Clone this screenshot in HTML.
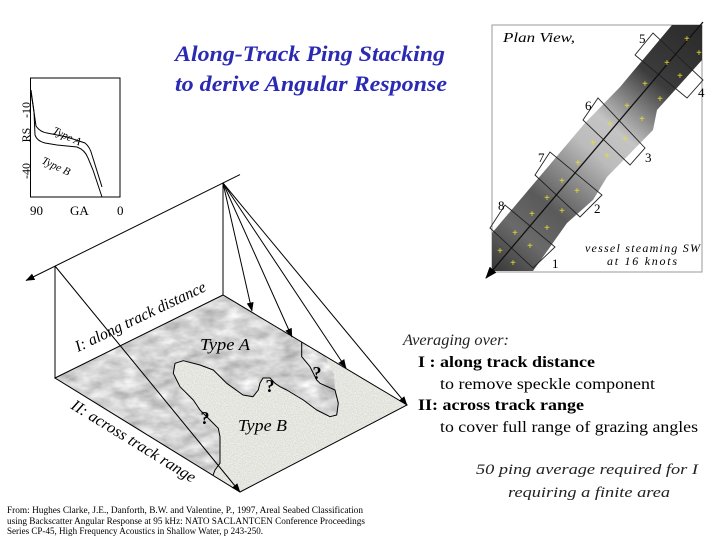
<!DOCTYPE html>
<html>
<head>
<meta charset="utf-8">
<style>
  html,body{margin:0;padding:0;background:#fff;}
  svg{display:block;}
  text{font-family:"Liberation Serif","DejaVu Serif",serif;}
</style>
</head>
<body>
<svg width="720" height="540" viewBox="0 0 720 540" xmlns="http://www.w3.org/2000/svg">
  <defs>
    <marker id="ah" markerWidth="9" markerHeight="7" refX="8.5" refY="3.5" orient="auto" markerUnits="userSpaceOnUse">
      <path d="M0,0 L9,3.5 L0,7 z" fill="#000"/>
    </marker>
    <marker id="ahb" markerWidth="12" markerHeight="9" refX="11" refY="4.5" orient="auto" markerUnits="userSpaceOnUse">
      <path d="M0,0 L12,4.5 L0,9 z" fill="#000"/>
    </marker>
    <filter id="marble" filterUnits="userSpaceOnUse" x="0" y="0" width="720" height="540" color-interpolation-filters="sRGB">
      <feTurbulence type="fractalNoise" baseFrequency="0.05 0.1" numOctaves="3" seed="4" result="n"/>
      <feColorMatrix in="n" type="matrix" values="0.42 0 0 0 0.62  0.42 0 0 0 0.62  0.42 0 0 0 0.62  0 0 0 0 1" result="g"/>
      <feComposite in="g" in2="SourceGraphic" operator="in"/>
    </filter>
    <filter id="speck" filterUnits="userSpaceOnUse" x="0" y="0" width="720" height="540" color-interpolation-filters="sRGB">
      <feTurbulence type="fractalNoise" baseFrequency="0.9" numOctaves="1" seed="7" result="n"/>
      <feColorMatrix in="n" type="matrix" values="0.22 0 0 0 0.79  0.22 0 0 0 0.79  0.2 0 0 0 0.78  0 0 0 0 1" result="g"/>
      <feComposite in="g" in2="SourceGraphic" operator="in"/>
    </filter>
    <linearGradient id="strip" gradientUnits="userSpaceOnUse" x1="700" y1="25" x2="495" y2="270">
      <stop offset="0" stop-color="#2a2a2a"/>
      <stop offset="0.22" stop-color="#3c3c3c"/>
      <stop offset="0.32" stop-color="#808080"/>
      <stop offset="0.42" stop-color="#c4c4c4"/>
      <stop offset="0.52" stop-color="#bcbcbc"/>
      <stop offset="0.62" stop-color="#8e8e8e"/>
      <stop offset="0.74" stop-color="#5a5a5a"/>
      <stop offset="0.86" stop-color="#6a6a6a"/>
      <stop offset="1" stop-color="#3a3a3a"/>
    </linearGradient>
  </defs>

  <!-- Title -->
  <text x="175" y="61" font-size="22" font-weight="bold" font-style="italic" fill="#2a2ab4" textLength="270" lengthAdjust="spacingAndGlyphs">Along-Track Ping Stacking</text>
  <text x="175" y="91" font-size="22" font-weight="bold" font-style="italic" fill="#2a2ab4" textLength="272" lengthAdjust="spacingAndGlyphs">to derive Angular Response</text>

  <!-- Small chart -->
  <rect x="30.5" y="78" width="89.5" height="119" fill="none" stroke="#000" stroke-width="1"/>
  <path d="M30.5,90 L33,105 L36,126 Q40,132 47,133 L67,137 L85,143 Q90,147 92,155 L102,187" fill="none" stroke="#000" stroke-width="1"/>
  <path d="M31,90 L34,112 L35,135 Q37,141 45,143 L57,145 L77,147 Q85,150 88,158 L93,170 L102,197" fill="none" stroke="#000" stroke-width="1"/>
  <text x="30" y="110" font-size="12" text-anchor="middle" transform="rotate(-90 30 110)">-10</text>
  <text x="30" y="135" font-size="12" text-anchor="middle" transform="rotate(-90 30 135)">RS</text>
  <text x="30" y="171" font-size="12" text-anchor="middle" transform="rotate(-90 30 171)">-40</text>
  <text x="52" y="133" font-size="11" font-style="italic" transform="rotate(25 52 133)">Type A</text>
  <text x="41" y="163" font-size="11" font-style="italic" transform="rotate(25 41 163)">Type B</text>
  <text x="30" y="215" font-size="13">90</text>
  <text x="70" y="215" font-size="13">GA</text>
  <text x="117" y="215" font-size="13">0</text>

  <!-- Plan view -->
  <rect x="492" y="25" width="210" height="247" fill="#fff" stroke="#9a9a9a" stroke-width="1"/>
  <polygon points="492,233 585,123 620,87 672,25 702,25 702,60 657,110 653,130 607,177 593,200 567,223 533,271 492,271" fill="url(#strip)"/>
  <g fill="none" stroke="#222" stroke-width="0.9">
    <polygon points="635,55 653,33 703,80 687,98"/>
    <polygon points="583,120 598,98 645,148 630,165"/>
    <polygon points="535,175 550,152 602,195 580,217"/>
    <polygon points="490,228 505,205 555,247 533,268"/>
  </g>
  <line x1="703" y1="22" x2="486" y2="278" stroke="#111" stroke-width="1.3" marker-end="url(#ahb)"/>
  <g fill="#e8e030" font-size="10" font-weight="bold" font-family="DejaVu Sans, sans-serif" text-anchor="middle">
    <text x="687" y="42">+</text><text x="699" y="56">+</text><text x="667" y="66">+</text>
    <text x="680" y="79">+</text><text x="645" y="87">+</text><text x="660" y="102">+</text>
    <text x="627" y="109">+</text><text x="642" y="122">+</text><text x="610" y="127">+</text>
    <text x="625" y="142">+</text><text x="593" y="146">+</text><text x="607" y="159">+</text>
    <text x="578" y="166">+</text><text x="562" y="184">+</text><text x="577" y="194">+</text>
    <text x="547" y="201">+</text><text x="562" y="214">+</text><text x="532" y="217">+</text>
    <text x="547" y="231">+</text><text x="515" y="236">+</text><text x="530" y="249">+</text>
    <text x="500" y="254">+</text><text x="513" y="266">+</text>
  </g>
  <text x="503" y="42" font-size="14" font-style="italic" textLength="72" lengthAdjust="spacingAndGlyphs">Plan View,</text>
  <g font-size="13">
    <text x="639" y="43">5</text>
    <text x="698" y="97">4</text>
    <text x="585" y="110">6</text>
    <text x="645" y="162">3</text>
    <text x="538" y="162">7</text>
    <text x="594" y="213">2</text>
    <text x="498" y="210">8</text>
    <text x="552" y="268">1</text>
  </g>
  <text x="585" y="252" font-size="12" font-style="italic" textLength="115" lengthAdjust="spacing">vessel steaming SW</text>
  <text x="607" y="265" font-size="12" font-style="italic" textLength="70" lengthAdjust="spacing">at 16 knots</text>

  <!-- 3D diagram: plane -->
  <polygon points="55,378 223,295 407,405 240,492" fill="#fff" filter="url(#speck)"/>
  <path d="M55,378 L223,295 L325,356 L334,374 L335,390 L338.3,403.3 L336.7,415 L330,416.7 L316.7,410 L303.3,400 L286.7,390 L280,386.7 L275,383.3 L270,378 L263,378 L260,383 L258.3,390 L253,396.7 L243,395 L226.7,383.3 L213.3,370 L200,365 L183.3,360.7 L175,363.3 L173.3,373.3 L180,386.7 L193.3,400 L200,410 L210,420 L218.3,428.3 L220,436.7 L220,463.3 L215,470 L213,475.3 Z" fill="#fff" filter="url(#marble)"/>
  <path d="M301.7,342 L301.7,356.7 L310,366.7 L316.7,380 L320,383.3 L335,390 L338.3,403.3 L336.7,415 L330,416.7 L316.7,410 L303.3,400 L286.7,390 L280,386.7 L275,383.3 L270,378 L263,378 L260,383 L258.3,390 L253,396.7 L243,395 L226.7,383.3 L213.3,370 L200,365 L183.3,360.7 L175,363.3 L173.3,373.3 L180,386.7 L193.3,400 L200,410 L210,420 L218.3,428.3 L220,436.7 L220,463.3 L215,470 L213,475.3" fill="none" stroke="#000" stroke-width="1" stroke-linejoin="round"/>
  <polygon points="55,378 223,295 407,405 240,492" fill="none" stroke="#000" stroke-width="1"/>

  <!-- 3D diagram: lines -->
  <g stroke="#000" stroke-width="1" fill="none">
    <line x1="240" y1="174.6" x2="26" y2="280.5" marker-end="url(#ah)"/>
    <line x1="55" y1="266" x2="55" y2="378"/>
    <line x1="223" y1="183" x2="223" y2="295"/>
    <line x1="55" y1="266" x2="240" y2="492" marker-end="url(#ah)"/>
    <line x1="223" y1="183" x2="252" y2="311" marker-end="url(#ah)"/>
    <line x1="223" y1="183" x2="292" y2="337" marker-end="url(#ah)"/>
    <line x1="223" y1="183" x2="346" y2="368" marker-end="url(#ah)"/>
    <line x1="223" y1="183" x2="407" y2="405" marker-end="url(#ah)"/>
  </g>

  <text x="78" y="352" font-size="16" font-style="italic" transform="rotate(-25.5 78 352)" textLength="143" lengthAdjust="spacingAndGlyphs">I: along track distance</text>
  <text x="70" y="408" font-size="16" font-style="italic" transform="rotate(31.6 70 408)" textLength="143" lengthAdjust="spacingAndGlyphs">II: across track range</text>
  <text x="200" y="350" font-size="17" font-style="italic" textLength="50" lengthAdjust="spacingAndGlyphs">Type A</text>
  <text x="238" y="431" font-size="17" font-style="italic" textLength="49" lengthAdjust="spacingAndGlyphs">Type B</text>
  <g font-size="18" font-weight="bold" text-anchor="middle">
    <text x="205" y="424">?</text>
    <text x="270" y="392">?</text>
    <text x="317" y="379">?</text>
  </g>

  <!-- Right text block -->
  <text x="403" y="345" font-size="16" font-style="italic" fill="#222" textLength="106" lengthAdjust="spacingAndGlyphs">Averaging over:</text>
  <text x="418" y="367" font-size="16" font-weight="bold" textLength="177" lengthAdjust="spacingAndGlyphs">I : along track distance</text>
  <text x="440" y="389" font-size="16" textLength="215" lengthAdjust="spacingAndGlyphs">to remove speckle component</text>
  <text x="418" y="410" font-size="16" font-weight="bold" textLength="166" lengthAdjust="spacingAndGlyphs">II: across track range</text>
  <text x="440" y="432" font-size="16" textLength="258" lengthAdjust="spacingAndGlyphs">to cover full range of grazing angles</text>
  <text x="476" y="474" font-size="15" font-style="italic" fill="#222" textLength="222" lengthAdjust="spacingAndGlyphs">50 ping average required for I</text>
  <text x="508" y="497" font-size="15" font-style="italic" fill="#222" textLength="162" lengthAdjust="spacingAndGlyphs">requiring a finite area</text>

  <!-- Citation -->
  <g font-size="9.5">
    <text x="7" y="513" textLength="356" lengthAdjust="spacingAndGlyphs">From: Hughes Clarke, J.E., Danforth, B.W. and Valentine, P., 1997, Areal Seabed Classification</text>
    <text x="7" y="524" textLength="358" lengthAdjust="spacingAndGlyphs">using Backscatter Angular Response at 95 kHz: NATO SACLANTCEN Conference Proceedings</text>
    <text x="7" y="534" textLength="256" lengthAdjust="spacingAndGlyphs">Series CP-45, High Frequency Acoustics in Shallow Water, p 243-250.</text>
  </g>
</svg>
</body>
</html>
